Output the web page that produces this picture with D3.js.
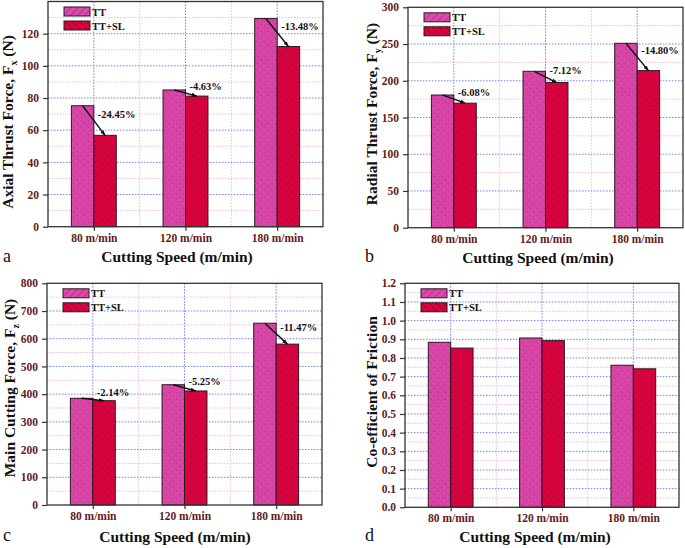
<!DOCTYPE html>
<html>
<head>
<meta charset="utf-8">
<script src="https://cdn.jsdelivr.net/npm/d3@7"></script>
<style>
  body { margin: 0; background: #fff; }
  svg { display: block; }
</style>
</head>
<body>
<svg id="chart" width="685" height="548"></svg>
<script>
// categories and series
const categories = ["80 m/min", "120 m/min", "180 m/min"];
const seriesNames = ["TT", "TT+SL"];

// (a) axial thrust force Fx (N)
const axialTT = [75.2, 85.0, 129.4];
const axialSL = [56.8, 81.2, 112.0];
const axialPct = ["-24.45%", "-4.63%", "-13.48%"];
const axialTicks = [0, 20, 40, 60, 80, 100, 120];

// (b) radial thrust force Fy (N)
const radialTT = [180.6, 212.9, 251.0];
const radialSL = [169.5, 197.6, 213.8];
const radialPct = ["-6.08%", "-7.12%", "-14.80%"];
const radialTicks = [0, 50, 100, 150, 200, 250, 300];

// (c) main cutting force Fz (N)
const mainTT = [385, 434, 656];
const mainSL = [376.5, 411.5, 580.5];
const mainPct = ["-2.14%", "-5.25%", "-11.47%"];
const mainTicks = [0, 100, 200, 300, 400, 500, 600, 700, 800];

// (d) co-efficient of friction
const frictionTT = [0.884, 0.907, 0.761];
const frictionSL = [0.853, 0.893, 0.742];
const frictionTicks = [0, 0.1, 0.2, 0.3, 0.4, 0.5, 0.6, 0.7, 0.8, 0.9, 1.0, 1.1, 1.2];

const svg = d3.select("#chart");
const serif = "'Liberation Serif', 'DejaVu Serif', serif";
const tickColor = "#641a20";

// hatch patterns for the bars
const defs = svg.append("defs");
function hatch(id, base, line, angle, dot) {
  const p = defs.append("pattern")
    .attr("id", id)
    .attr("patternUnits", "userSpaceOnUse")
    .attr("width", 5).attr("height", 5)
    .attr("patternTransform", `rotate(${angle})`);
  p.append("rect").attr("width", 5).attr("height", 5).attr("fill", base);
  p.append("line").attr("x1", 0).attr("y1", 0).attr("x2", 0).attr("y2", 5)
    .attr("stroke", line).attr("stroke-width", 1.2);
  p.append("circle").attr("cx", 2.5).attr("cy", 2.5).attr("r", 0.5).attr("fill", dot);
}
hatch("hTT", "#da47a9", "#c8389a", 45, "#8a2066");
hatch("hSL", "#d9043f", "#c20036", -45, "#7a0022");
hatch("lTT", "#dc4aab", "#9a2477", 45, "#dc4aab");
hatch("lSL", "#d9043f", "#7e0026", -45, "#d9043f");

defs.append("marker")
  .attr("id", "arrow")
  .attr("viewBox", "0 0 10 10")
  .attr("refX", 9).attr("refY", 5)
  .attr("markerWidth", 4).attr("markerHeight", 4)
  .attr("orient", "auto")
  .append("path").attr("d", "M0,1.5 L10,5 L0,8.5 Z").attr("fill", "#111");

const panels = [
  { tt: axialTT, sl: axialSL, pct: axialPct, ticks: axialTicks, max: 140, fmt: d3.format("d"),
    title: ["Axial Thrust Force, F", "x", "  (N)"], letter: "a",
    x0: 48, x1: 323, y0: 1.5, y1: 226.7,
    ytx: 13, yty: 122, xtx: 177, xty: 262, lx: 3, ly: 262 },
  { tt: radialTT, sl: radialSL, pct: radialPct, ticks: radialTicks, max: 300, fmt: d3.format("d"),
    title: ["Radial Thrust Force, F", "y", "  (N)"], letter: "b",
    x0: 408, x1: 683, y0: 7.3, y1: 227.7,
    ytx: 377, yty: 114, xtx: 538, xty: 263, lx: 365, ly: 262 },
  { tt: mainTT, sl: mainSL, pct: mainPct, ticks: mainTicks, max: 800, fmt: d3.format("d"),
    title: ["Main Cutting Force, F", "z", "  (N)"], letter: "c",
    x0: 47, x1: 322, y0: 283.3, y1: 505,
    ytx: 15, yty: 388, xtx: 175, xty: 541.5, lx: 3, ly: 541 },
  { tt: frictionTT, sl: frictionSL, pct: null, ticks: frictionTicks, max: 1.2, fmt: d3.format(".1f"),
    title: ["Co-efficient of Friction", "", ""], letter: "d",
    x0: 405, x1: 679, y0: 283.3, y1: 507.3,
    ytx: 377, yty: 392, xtx: 535, xty: 541.5, lx: 365, ly: 541 }
];

panels.forEach(drawPanel);

function drawPanel(p) {
  const g = svg.append("g");
  const x = d3.scaleLinear().domain([0.5, categories.length + 0.5]).range([p.x0, p.x1]);
  const y = d3.scaleLinear().domain([0, p.max]).range([p.y1, p.y0]);
  const step = x(2) - x(1);
  const bw = step * 0.245;

  // minor grid (pink)
  const minorY = p.ticks.map(t => t + (p.ticks[1] - p.ticks[0]) / 2).filter(t => t < p.max);
  g.selectAll(".myg").data(minorY).enter().append("line")
    .attr("x1", p.x0).attr("x2", p.x1)
    .attr("y1", d => y(d)).attr("y2", d => y(d))
    .attr("stroke", "#f2b6e2").attr("stroke-width", 1).attr("stroke-dasharray", "1.5,1.5");
  g.selectAll(".mxg").data(d3.range(1.5, categories.length, 1)).enter().append("line")
    .attr("x1", d => x(d)).attr("x2", d => x(d))
    .attr("y1", p.y0).attr("y2", p.y1)
    .attr("stroke", "#f2b6e2").attr("stroke-width", 1).attr("stroke-dasharray", "1.5,1.5");
  // major grid (blue)
  g.selectAll(".yg").data(p.ticks.filter(t => t > 0 && t < p.max)).enter().append("line")
    .attr("x1", p.x0).attr("x2", p.x1)
    .attr("y1", d => y(d)).attr("y2", d => y(d))
    .attr("stroke", "#7c7cf0").attr("stroke-width", 1).attr("stroke-dasharray", "1.5,1.5");
  g.selectAll(".xg").data(d3.range(1, categories.length + 1)).enter().append("line")
    .attr("x1", d => x(d)).attr("x2", d => x(d))
    .attr("y1", p.y0).attr("y2", p.y1)
    .attr("stroke", "#7c7cf0").attr("stroke-width", 1).attr("stroke-dasharray", "1.5,1.5");

  // bars
  g.selectAll(".btt").data(p.tt).enter().append("rect")
    .attr("x", (d, i) => x(i + 1) - bw)
    .attr("y", d => y(d))
    .attr("width", bw)
    .attr("height", d => p.y1 - y(d))
    .attr("fill", "url(#hTT)").attr("stroke", "#2a1a22").attr("stroke-width", 1);
  g.selectAll(".bsl").data(p.sl).enter().append("rect")
    .attr("x", (d, i) => x(i + 1))
    .attr("y", d => y(d))
    .attr("width", bw)
    .attr("height", d => p.y1 - y(d))
    .attr("fill", "url(#hSL)").attr("stroke", "#2a1a22").attr("stroke-width", 1);

  // reduction arrows and labels
  if (p.pct) {
    g.selectAll(".arr").data(p.tt).enter().append("line")
      .attr("x1", (d, i) => x(i + 1) - bw / 2)
      .attr("y1", d => y(d))
      .attr("x2", (d, i) => x(i + 1) + bw / 2)
      .attr("y2", (d, i) => y(p.sl[i]))
      .attr("stroke", "#111").attr("stroke-width", 1.4)
      .attr("marker-end", "url(#arrow)");
    g.selectAll(".pct").data(p.pct).enter().append("text")
      .attr("x", (d, i) => x(i + 1) + 4)
      .attr("y", (d, i) => (y(p.tt[i]) + y(p.sl[i])) / 2 - 3)
      .attr("font-family", serif).attr("font-weight", "bold").attr("font-size", 10.5)
      .attr("fill", "#111")
      .text(d => d);
  }

  // frame
  g.append("rect")
    .attr("x", p.x0).attr("y", p.y0)
    .attr("width", p.x1 - p.x0).attr("height", p.y1 - p.y0)
    .attr("fill", "none").attr("stroke", "#333").attr("stroke-width", 1.3);

  // axes
  const ya = g.append("g").attr("transform", `translate(${p.x0},0)`)
    .call(d3.axisLeft(y).tickValues(p.ticks).tickFormat(p.fmt).tickSize(5).tickPadding(4));
  const xa = g.append("g").attr("transform", `translate(0,${p.y1})`)
    .call(d3.axisBottom(x).tickValues(d3.range(1, categories.length + 1))
      .tickFormat(d => categories[d - 1]).tickSize(4).tickPadding(3));
  [ya, xa].forEach(a => {
    a.select(".domain").remove();
    a.selectAll("line").attr("stroke", "#333").attr("stroke-width", 1.2);
    a.selectAll("text").attr("font-family", serif).attr("font-weight", "bold")
      .attr("font-size", 11.5).attr("fill", tickColor);
  });

  // legend
  const lg = g.append("g").attr("transform", `translate(${p.x0 + 16},${p.y0 + 5.5})`);
  seriesNames.forEach((s, i) => {
    lg.append("rect").attr("x", 0).attr("y", i * 14).attr("width", 26).attr("height", 9)
      .attr("fill", i === 0 ? "url(#lTT)" : "url(#lSL)")
      .attr("stroke", "#2a1a22").attr("stroke-width", 1);
    lg.append("text").attr("x", 28).attr("y", i * 14 + 8.5)
      .attr("font-family", serif).attr("font-weight", "bold").attr("font-size", 10.5)
      .attr("fill", "#111").text(s);
  });

  // axis titles
  const yt = g.append("text")
    .attr("transform", `translate(${p.ytx},${p.yty}) rotate(-90)`)
    .attr("text-anchor", "middle")
    .attr("font-family", serif).attr("font-weight", "bold").attr("font-size", 15.5)
    .attr("fill", "#111");
  yt.append("tspan").text(p.title[0]);
  if (p.title[1]) {
    yt.append("tspan").attr("font-size", 10).attr("dy", 4).text(p.title[1]);
    yt.append("tspan").attr("dy", -4).text(p.title[2]);
  }
  g.append("text")
    .attr("x", p.xtx).attr("y", p.xty)
    .attr("text-anchor", "middle")
    .attr("font-family", serif).attr("font-weight", "bold").attr("font-size", 15.5)
    .attr("fill", "#111")
    .text("Cutting Speed (m/min)");
  g.append("text")
    .attr("x", p.lx).attr("y", p.ly)
    .attr("font-family", serif).attr("font-size", 18)
    .attr("fill", "#111")
    .text(p.letter);
}
</script>
</body>
</html>
